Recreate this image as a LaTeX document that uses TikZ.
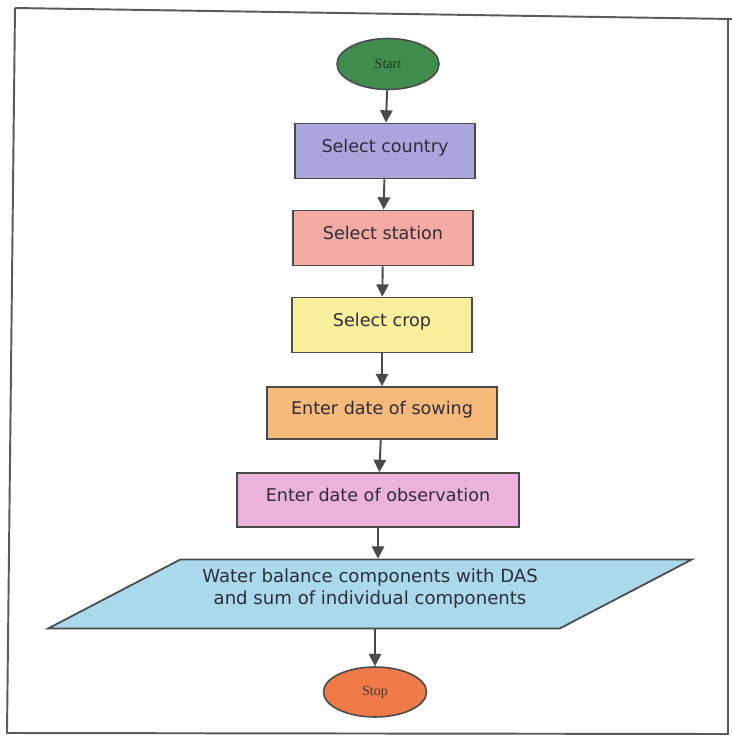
\documentclass[tikz,border=0pt]{standalone}
\usepackage{fontspec}
\setmainfont{DejaVu Sans}
\newfontfamily\termfont{Liberation Serif}
\usetikzlibrary{arrows.meta,shapes.geometric}

\definecolor{framegrey}{HTML}{5A5A5A}
\definecolor{linegrey}{HTML}{4A4A4A}
\definecolor{txtgrey}{HTML}{2E2E3A}
\definecolor{startgreen}{HTML}{3F8C4C}
\definecolor{countrylav}{HTML}{ABA5DD}
\definecolor{stationpink}{HTML}{F2AAA2}
\definecolor{cropyellow}{HTML}{F8EE9C}
\definecolor{sowingorange}{HTML}{F5B979}
\definecolor{obsviolet}{HTML}{EBB2DB}
\definecolor{outblue}{HTML}{A9D9EA}
\definecolor{stoporange}{HTML}{EE7B47}

\tikzset{
  stepbox/.style={draw=linegrey, line width=1pt, minimum height=1.1cm,
    inner sep=2pt, text height=0.26cm, text depth=0.2cm, text=txtgrey,
    font=\fontsize{10}{12.5}\selectfont},
  terminal/.style={ellipse, draw=linegrey, line width=0.9pt, minimum width=2.04cm,
    minimum height=1.02cm, inner sep=0pt, font=\termfont\fontsize{8}{9}\selectfont},
  outbox/.style={trapezium, trapezium left angle=23, trapezium right angle=157,
    trapezium stretches=true, draw=linegrey, line width=1pt, fill=outblue,
    minimum width=12.9cm, minimum height=1.38cm, inner sep=0pt, align=center,
    text=txtgrey, font=\fontsize{10.3}{11.2}\selectfont},
  flow/.style={draw=linegrey, line width=1.1pt,
    -{Triangle[length=7pt,width=7pt]}},
}

\begin{document}
\begin{tikzpicture}[x=0.02cm, y=-0.02cm]
		%%%%% START %%%%%
		\useasboundingbox (0, 0) rectangle (732, 737);
		\fill[white] (0, 0) rectangle (732, 737);
		
		% outer frame (scan is a little skewed)
		\draw[framegrey, line width=1.1pt] (15, 8) -- (732, 19) (728, 19) -- (728, 734) -- (7, 733) -- (15, 8);
		
		\node[terminal, fill=startgreen, text=startgreen!45!black] (start) at (388, 64) {Start};
		
		\node[stepbox, fill=countrylav, minimum width=3.6cm] (country) at (385, 151) {Select country};
		\node[stepbox, fill=stationpink, minimum width=3.6cm] (station) at (383, 238) {Select station};
		\node[stepbox, fill=cropyellow, minimum width=3.6cm] (crop) at (382, 325) {Select crop};
		\node[stepbox, fill=sowingorange, minimum width=4.6cm, minimum height=1.04cm] (sowing) at (382, 413) {Enter date of sowing};
		\node[stepbox, fill=obsviolet, minimum width=5.64cm, minimum height=1.08cm] (observation) at (378, 500) {Enter date of observation};
		
		\node[outbox] (balance) at (370, 594) {Water balance components with DAS\\[1pt]and sum of individual components\\[-3pt]};
		
		\node[terminal, fill=stoporange, text=black!75, minimum width=2.06cm, minimum height=1cm] (stop) at (375, 692) {Stop};
		
		% connectors
		\draw[flow] (start) -- (country);
		\draw[flow] (country) -- (station);
		\draw[flow] (station) -- (crop);
		\draw[flow] (crop) -- (sowing);
		\draw[flow] (sowing) -- (observation);
		\draw[flow] (observation.south) -- (balance.north -| observation.south);
		\draw[flow] (balance.south -| stop.north) -- (stop);
		
		%%%%% END %%%%%
	\end{tikzpicture}
\end{document}
